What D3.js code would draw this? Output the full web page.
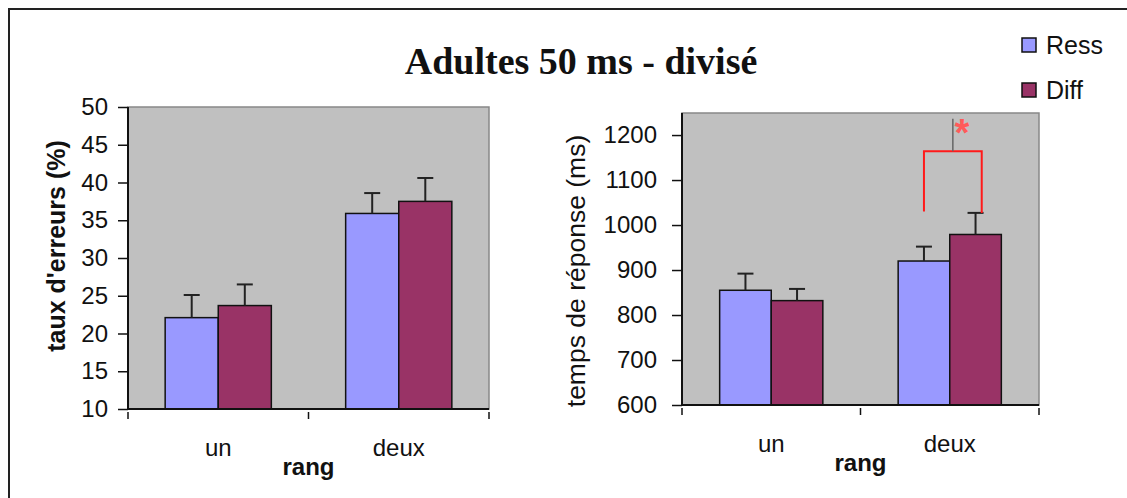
<!DOCTYPE html>
<html>
<head>
<meta charset="utf-8">
<script src="https://cdn.jsdelivr.net/npm/d3@7"></script>
<style>
  body { margin: 0; background: #fff; }
  svg { display: block; }
  text { font-family: Arial, "Liberation Sans", sans-serif; fill: #111; }
</style>
</head>
<body>
<div class="chart"></div>
<script>
// data
const categories = ["un", "deux"];
const series = ["Ress", "Diff"];
const colors = ["#9999ff", "#993366"];

const errValues = [[22.1, 23.7], [35.9, 37.5]];   // taux d'erreurs (%)
const errTops = [[25.1, 26.5], [38.6, 40.6]];
const errTicks = [10, 15, 20, 25, 30, 35, 40, 45, 50];

const rtValues = [[855, 832], [920, 979]];         // temps de réponse (ms)
const rtTops = [[892, 858], [952, 1027]];
const rtTicks = [600, 700, 800, 900, 1000, 1100, 1200];

// significance bracket on "deux" (ms)
const bracketTop = 1164;
const bracketLegs = [1030, 1027];
const bracketStem = 1236;

const W = 1127, H = 498;

let svg = d3.select(".chart").append("svg")
  .attr("width", W)
  .attr("height", H);

// outer frame (runs off the right / bottom edge)
svg.append("rect")
  .attr("x", 9).attr("y", 9)
  .attr("width", W + 20).attr("height", H + 20)
  .attr("fill", "none")
  .attr("stroke", "#222")
  .attr("stroke-width", 2);

svg.append("text")
  .attr("x", 581).attr("y", 74)
  .attr("text-anchor", "middle")
  .style("font-family", "'Liberation Serif', 'Times New Roman', serif")
  .style("font-weight", "bold")
  .style("font-size", "38px")
  .text("Adultes 50 ms - divisé");

function panel(opt) {
  const g = svg.append("g");
  const { left, right, top, bottom } = opt;

  const x0 = d3.scaleBand().domain(categories).range([left, right]);
  const x1 = d3.scaleBand().domain(series).range([0, x0.bandwidth()]).paddingOuter(opt.pad);
  const y = d3.scaleLinear().domain(opt.domain).range([bottom, top]);

  // plot area
  g.append("rect")
    .attr("x", left).attr("y", top)
    .attr("width", right - left).attr("height", bottom - top)
    .attr("fill", "#c0c0c0")
    .attr("stroke", "#888")
    .attr("stroke-width", 1.5);

  // bars
  const grp = g.selectAll(".cat")
    .data(categories)
    .enter().append("g")
    .attr("transform", d => `translate(${x0(d)},0)`);

  grp.selectAll("rect")
    .data((d, i) => series.map((s, j) => ({ s: s, j: j, v: opt.values[i][j], e: opt.tops[i][j] })))
    .enter().append("rect")
    .attr("x", d => x1(d.s))
    .attr("y", d => y(d.v))
    .attr("width", x1.bandwidth())
    .attr("height", d => y(opt.domain[0]) - y(d.v))
    .attr("fill", d => colors[d.j])
    .attr("stroke", "#111")
    .attr("stroke-width", 1.5);

  // error bars
  const eb = grp.selectAll(".err")
    .data((d, i) => series.map((s, j) => ({ s: s, v: opt.values[i][j], e: opt.tops[i][j] })))
    .enter().append("g");
  eb.append("line")
    .attr("x1", d => x1(d.s) + x1.bandwidth() / 2)
    .attr("x2", d => x1(d.s) + x1.bandwidth() / 2)
    .attr("y1", d => y(d.v))
    .attr("y2", d => y(d.e))
    .attr("stroke", "#222").attr("stroke-width", 2);
  eb.append("line")
    .attr("x1", d => x1(d.s) + x1.bandwidth() / 2 - 8)
    .attr("x2", d => x1(d.s) + x1.bandwidth() / 2 + 8)
    .attr("y1", d => y(d.e))
    .attr("y2", d => y(d.e))
    .attr("stroke", "#222").attr("stroke-width", 2);

  // y axis
  const yAxis = d3.axisLeft(y).tickValues(opt.ticks).tickFormat(d3.format("d"))
    .tickSize(10).tickPadding(opt.tickPad);
  const ya = g.append("g")
    .attr("transform", `translate(${left},0)`)
    .call(yAxis);
  ya.select(".domain").attr("stroke", "#111").attr("stroke-width", 2)
    .attr("d", `M0,${bottom}V${top}`);
  ya.selectAll(".tick line").attr("stroke", "#111").attr("stroke-width", 1.5);
  ya.selectAll(".tick text")
    .style("font-size", "24px")
    .style("font-family", "Arial, 'Liberation Sans', sans-serif")
    .attr("fill", "#111");

  // x axis: line plus small ticks at category boundaries
  g.append("line")
    .attr("x1", left).attr("x2", right)
    .attr("y1", bottom).attr("y2", bottom)
    .attr("stroke", "#111").attr("stroke-width", 2);
  const bounds = [left, x0("deux"), right];
  g.selectAll(".xt").data(bounds).enter().append("line")
    .attr("x1", d => d).attr("x2", d => d)
    .attr("y1", bottom + 3).attr("y2", bottom + 10)
    .attr("stroke", "#111").attr("stroke-width", 1.5);
  g.selectAll(".xl").data(categories).enter().append("text")
    .attr("x", d => x0(d) + x0.bandwidth() / 2)
    .attr("y", bottom + 47)
    .attr("text-anchor", "middle")
    .style("font-size", "24px")
    .text(d => d);
  g.append("text")
    .attr("x", (left + right) / 2)
    .attr("y", bottom + 66)
    .attr("text-anchor", "middle")
    .style("font-size", "24px")
    .style("font-weight", "bold")
    .text("rang");

  // y title
  g.append("text")
    .attr("transform", `translate(${opt.titleX},${opt.titleY}) rotate(-90)`)
    .attr("text-anchor", "middle")
    .style("font-size", opt.titleSize)
    .style("font-weight", opt.titleBold ? "bold" : "normal")
    .text(opt.title);

  return { x0: x0, x1: x1, y: y };
}

panel({
  left: 128, right: 489, top: 107, bottom: 409,
  domain: [10, 50], ticks: errTicks, pad: 0.7, tickPad: 10,
  values: errValues, tops: errTops,
  title: "taux d'erreurs (%)", titleBold: true, titleSize: "25px", titleX: 65, titleY: 246
});

const rt = panel({
  left: 682, right: 1039, top: 113, bottom: 405,
  domain: [600, 1249], ticks: rtTicks, pad: 0.73, tickPad: 15,
  values: rtValues, tops: rtTops,
  title: "temps de réponse (ms)", titleBold: false, titleSize: "26.5px", titleX: 585, titleY: 271
});

// significance bracket
const bx = rt.x0("deux");
const legX = [bx + rt.x1("Ress") + rt.x1.bandwidth() / 2, bx + rt.x1("Diff") + rt.x1.bandwidth() * 0.62];
svg.append("path")
  .attr("d", `M${legX[0]},${rt.y(bracketLegs[0])}V${rt.y(bracketTop)}H${legX[1]}V${rt.y(bracketLegs[1])}`)
  .attr("fill", "none")
  .attr("stroke", "#ff1a1a")
  .attr("stroke-width", 2);
const midX = (legX[0] + legX[1]) / 2;
svg.append("line")
  .attr("x1", midX).attr("x2", midX)
  .attr("y1", rt.y(bracketTop)).attr("y2", rt.y(bracketStem))
  .attr("stroke", "#666").attr("stroke-width", 1.5);
svg.append("text")
  .attr("x", midX + 9).attr("y", rt.y(bracketStem) + 27)
  .attr("text-anchor", "middle")
  .style("font-size", "38px")
  .style("font-weight", "bold")
  .style("fill", "#ff5a5a")
  .text("*");

// legend
const leg = svg.selectAll(".leg").data(series).enter().append("g")
  .attr("transform", (d, i) => `translate(1022,${38 + i * 45})`);
leg.append("rect")
  .attr("width", 14).attr("height", 14)
  .attr("fill", (d, i) => colors[i])
  .attr("stroke", "#111").attr("stroke-width", 1.5);
leg.append("text")
  .attr("x", 24).attr("y", 16)
  .style("font-size", "25px")
  .text(d => d);
</script>
</body>
</html>
